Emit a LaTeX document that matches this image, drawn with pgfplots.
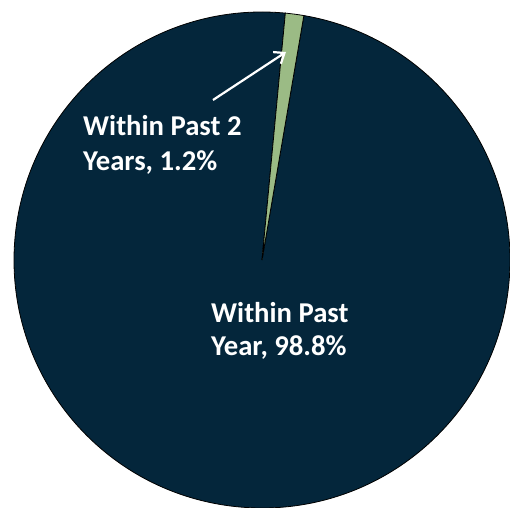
\documentclass[border=0pt]{standalone}
\usepackage{pgfplots}
\usepackage{pgfplotstable}
\pgfplotsset{compat=1.18}
\usepackage{fontspec}
\setmainfont{Carlito}
\usetikzlibrary{arrows.meta}
\definecolor{navy}{RGB}{4,38,59}
\definecolor{sage}{RGB}{155,187,133}
\pgfplotstableread{
label value
year 98.8
two 1.2
}\piedata
\begin{document}
\begin{tikzpicture}
\path[use as bounding box] (0,0) rectangle (510bp,508bp);
\pgfplotstablegetelem{0}{value}\of\piedata \let\va\pgfplotsretval
\pgfplotstablegetelem{1}{value}\of\piedata \let\vb\pgfplotsretval
\pgfmathsetmacro{\aS}{84.6}
\pgfmathsetmacro{\aM}{\aS+3.6*\va}
\pgfmathsetmacro{\aE}{\aM+3.6*\vb}
\begin{axis}[hide axis, x=1bp, y=1bp, xmin=0, xmax=510, ymin=0, ymax=508,
  at={(0,0)}, anchor=south west, clip=false]
\filldraw[fill=navy, draw=black, line width=0.8bp] (axis cs:262,248) -- ++(\aS:248bp) arc[start angle=\aS, end angle=\aM, radius=248bp] -- cycle;
\filldraw[fill=sage, draw=black, line width=0.8bp] (axis cs:262,248) -- ++(\aM:248bp) arc[start angle=\aM, end angle=\aE, radius=248bp] -- cycle;
\draw[white, line width=2.2bp, -{Straight Barb[length=9bp, width=14bp]}] (axis cs:213,408) -- (axis cs:286,456);
\begin{scope}[every node/.style={text=white, font=\fontsize{28.7bp}{35bp}\selectfont\bfseries, inner sep=0pt, anchor=base west}]
\node at (axis cs:83,373) {Within Past 2};
\node at (axis cs:83,338) {Years, 1.2\%};
\node at (axis cs:211,186) {Within Past};
\node at (axis cs:211,153) {Year, 98.8\%};
\end{scope}
\end{axis}
\end{tikzpicture}
\end{document}
